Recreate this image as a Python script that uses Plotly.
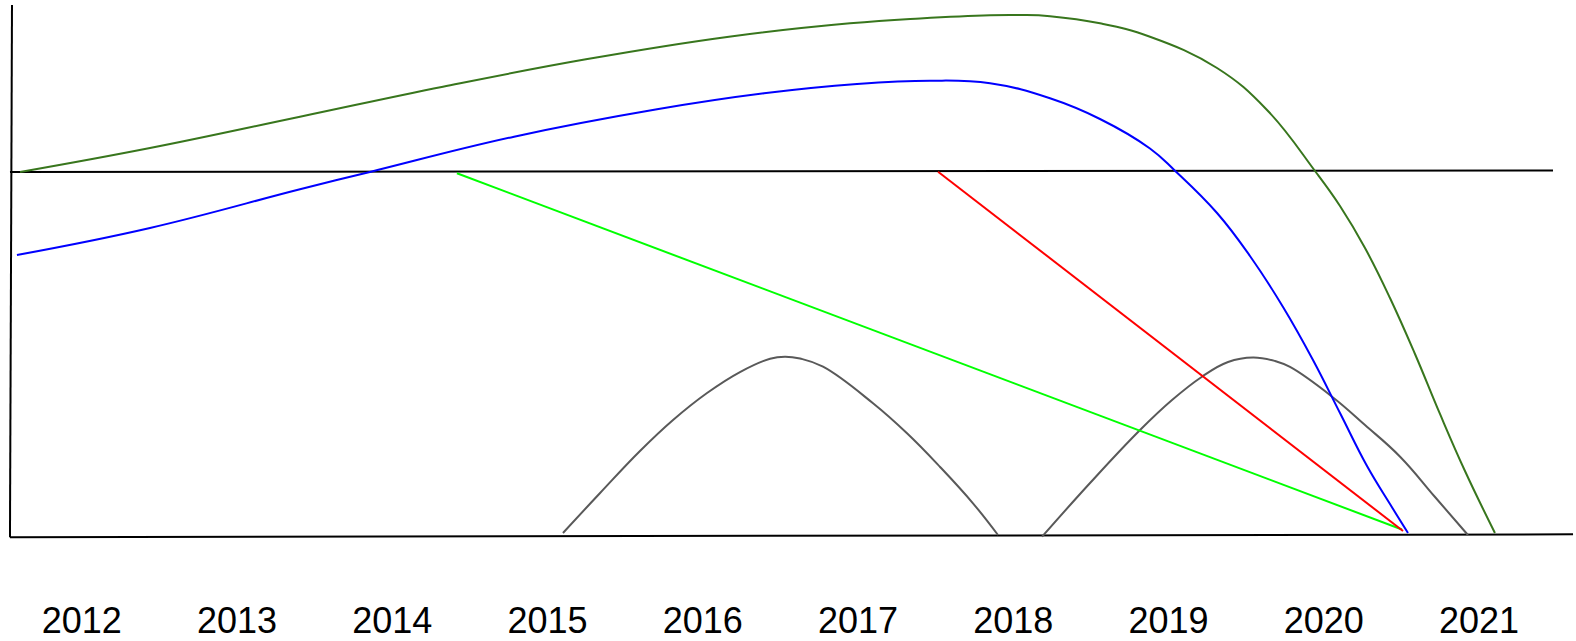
import plotly.graph_objects as go

# ---- data (x in years, y in arbitrary value units) ----
years = [2012, 2013, 2014, 2015, 2016, 2017, 2018, 2019, 2020, 2021]
year_labels = [str(y) for y in years]

# frame / reference lines
axis_v_x = [2011.551, 2011.538]
axis_v_y = [145.9, -0.35]
base_x = [2011.538, 2021.606]
base_y = [-0.35, 0.45]
ref_x = [2011.538, 2021.477]
ref_y = [100.0, 100.4]

# dark green curve
dg_x = [2011.603, 2012.440, 2013.406, 2014.327, 2015.248, 2016.169, 2016.949,
        2017.400, 2017.851, 2018.044, 2018.237, 2018.559, 2018.881, 2019.313,
        2019.635, 2019.944, 2020.105, 2020.266, 2020.427, 2020.588, 2020.749,
        2020.910, 2021.103]
dg_y = [100.00, 106.59, 115.19, 123.43, 130.96, 137.17, 140.85,
        142.20, 143.08, 143.13, 142.80, 140.85, 137.17, 128.57,
        117.03, 100.27, 90.66, 79.12, 65.38, 50.00, 33.52,
        17.86, 0.82]

# blue curve
bl_x = [2011.583, 2012.440, 2013.406, 2013.863, 2014.785, 2015.706, 2016.395,
        2016.994, 2017.464, 2017.851, 2018.237, 2018.559, 2018.881, 2019.042,
        2019.313, 2019.525, 2019.738, 2019.931, 2020.105, 2020.279, 2020.427,
        2020.543]
bl_y = [77.20, 84.62, 95.25, 100.08, 109.70, 117.23, 121.62,
        124.18, 125.08, 124.37, 120.25, 114.56, 106.46, 100.36,
        88.74, 76.92, 62.91, 48.35, 33.79, 19.23, 8.79,
        0.82]

# bright green line
lg_x = [2014.417, 2020.504]
lg_y = [99.64, 1.79]

# red line
rd_x = [2017.516, 2020.511]
rd_y = [100.08, 1.37]

# gray hump 1
h1_x = [2015.100, 2015.339, 2015.596, 2015.809, 2016.028, 2016.240, 2016.434,
        2016.530, 2016.627, 2016.775, 2017.097, 2017.316, 2017.529, 2017.741,
        2017.902]
h1_y = [0.82, 11.81, 23.35, 31.87, 39.29, 45.05, 48.71,
        49.26, 48.74, 46.51, 36.46, 28.21, 18.96, 8.98,
        0.27]

# gray hump 2
h2_x = [2018.186, 2018.495, 2018.817, 2019.023, 2019.216, 2019.384, 2019.545,
        2019.686, 2019.783, 2020.054, 2020.266, 2020.492, 2020.717, 2020.929]
h2_y = [-0.19, 14.56, 29.12, 37.36, 43.76, 47.80, 49.04,
        48.08, 46.43, 38.27, 30.49, 21.79, 10.71, 0.27]

fig = go.Figure()

def add_line(x, y, color, width, shape="linear"):
    line = dict(color=color, width=width, shape=shape)
    if shape == "spline":
        line["smoothing"] = 1.2
    fig.add_trace(go.Scatter(x=x, y=y, mode="lines", line=line,
                             hoverinfo="skip", showlegend=False))

add_line(axis_v_x, axis_v_y, "#000000", 2)
add_line(base_x, base_y, "#000000", 2)
add_line(ref_x, ref_y, "#000000", 2)
add_line(h1_x, h1_y, "#595959", 2, "spline")
add_line(h2_x, h2_y, "#595959", 2, "spline")
add_line(lg_x, lg_y, "#00ff00", 2)
add_line(rd_x, rd_y, "#ff0000", 2)
add_line(bl_x, bl_y, "#0000ff", 2, "spline")
add_line(dg_x, dg_y, "#38761d", 2, "spline")

fig.update_layout(
    width=1576, height=641,
    margin=dict(l=0, r=0, t=0, b=50),
    paper_bgcolor="white", plot_bgcolor="white",
    xaxis=dict(range=[2011.4738, 2021.6251], showgrid=False, zeroline=False,
               showline=False, ticks="", tickvals=years, ticktext=year_labels,
               ticklabelstandoff=5, automargin=False,
               tickfont=dict(family="Liberation Sans, Arial, sans-serif", size=36, color="black"),
               fixedrange=True),
    yaxis=dict(range=[-15.11, 147.25], visible=False, fixedrange=True,
               automargin=False),
)

fig.write_html(
    "out.html",
    config={"displayModeBar": False},
    post_script="document.body.style.margin='0';document.body.style.overflow='hidden';",
)
